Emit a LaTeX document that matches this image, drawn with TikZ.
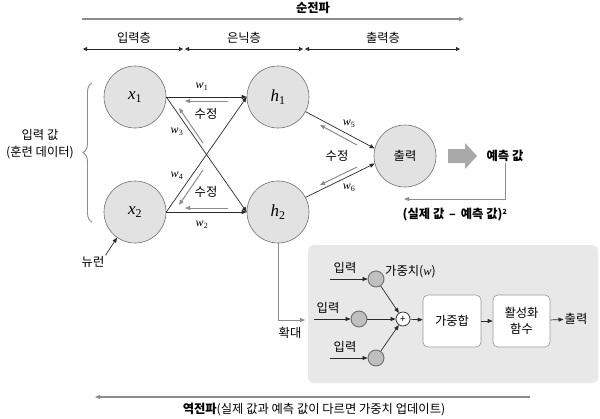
\documentclass[tikz,border=0pt]{standalone}
\usepackage{fontspec}
\setmainfont{Noto Sans CJK KR}
\newfontfamily\tms{Liberation Serif}
\usetikzlibrary{arrows.meta,decorations.pathreplacing}
\definecolor{nfill}{HTML}{E2E2E2}
\definecolor{ndraw}{HTML}{6E6E6E}
\definecolor{dk}{HTML}{2A2A2A}
\definecolor{gr}{HTML}{8C8C8C}
\definecolor{panelg}{HTML}{E8E8E8}
\newcommand\myvar[2]{{\tms\itshape #1}\textsubscript{\tms #2}}
\tikzset{
  neuron/.style={circle, minimum size=62pt, inner sep=0pt, fill=nfill, draw=ndraw, line width=0.6pt},
  darr/.style={draw=dk, line width=0.7pt, -{Triangle[length=5pt,width=4pt]}},
  garr/.style={draw=gr, line width=1pt, -{Triangle[length=5pt,width=4pt]}},
  dbl/.style={draw=dk, line width=0.9pt, {Triangle[length=4pt,width=4pt]}-{Triangle[length=4pt,width=4pt]}},
  kor/.style={font=\fontsize{12.3}{14}\selectfont, inner sep=1pt},
  korb/.style={font=\fontsize{12.3}{14}\selectfont\bfseries, inner sep=1pt},
  wlab/.style={font=\fontsize{12}{13}\selectfont, inner sep=1pt},
  bigvar/.style={font=\fontsize{17}{18}\selectfont},
  snode/.style={circle, minimum size=16pt, inner sep=0pt, fill=gray!50, draw=gray!85!black, line width=0.9pt},
  boxn/.style={rounded corners=5pt, draw=gray!80, fill=white, line width=0.6pt, minimum width=58pt, minimum height=52pt, align=center, font=\fontsize{12.3}{16}\selectfont}
}
\begin{document}
\begin{tikzpicture}[x=1pt,y=-1pt]
\fill[white] (0,0) rectangle (600,418);
\useasboundingbox (0,0) rectangle (600,418);

% forward propagation
\node[korb] (fwd) at (313,8) {순전파};
\coordinate (fa) at (82,19);
\coordinate (fb) at (464,19);
\draw[garr, line width=1.3pt] (fa) -- (fb);

% layers
\node[kor] (lin) at (134,38) {입력층};
\node[kor] (lhid) at (244,38) {은닉층};
\node[kor] (lout) at (383,38) {출력층};
\coordinate (l0) at (83,49);
\coordinate (l1a) at (183,49);
\coordinate (l1b) at (185,49);
\coordinate (l2a) at (303,49);
\coordinate (l2b) at (305,49);
\coordinate (l3) at (460,49);
\draw[dbl] (l0) -- (l1a);
\draw[dbl] (l1b) -- (l2a);
\draw[dbl] (l2b) -- (l3);

% neurons
\node[neuron, bigvar] (x1) at (135,97) {\myvar{x}{1}};
\node[neuron, bigvar] (x2) at (135,212) {\myvar{x}{2}};
\node[neuron, bigvar] (h1) at (278,97) {\myvar{h}{1}};
\node[neuron, bigvar] (h2) at (278,212) {\myvar{h}{2}};
\node[neuron, kor] (out) at (405,156) {출력};

% forward connections
\draw[darr] (x1.east) -- (h1.west);
\draw[darr] (x2.east) -- (h2.west);
\draw[darr] (x1.east) -- (h2.west);
\draw[darr] (x2.east) -- (h1.west);
\draw[darr] (h1.-28) -- (out.166);
\draw[darr] (h2.28) -- (out.194);

\node[wlab] (w1) at (202,87) {\myvar{w}{1}};
\node[wlab] (w2) at (202,225) {\myvar{w}{2}};
\node[wlab] (w3) at (177,132) {\myvar{w}{3}};
\node[wlab] (w4) at (177,176) {\myvar{w}{4}};
\node[wlab] (w5) at (349,124) {\myvar{w}{5}};
\node[wlab] (w6) at (349,188) {\myvar{w}{6}};

% correction arrows
\coordinate (ba1) at (228,101); \coordinate (bb1) at (185,101);
\coordinate (ba2) at (228,208); \coordinate (bb2) at (185,208);
\coordinate (ba3) at (203,143); \coordinate (bb3) at (179,108);
\coordinate (ba4) at (203,170); \coordinate (bb4) at (179,205);
\coordinate (ba5) at (357,145); \coordinate (bb5) at (320,125);
\coordinate (ba6) at (357,167); \coordinate (bb6) at (320,185);
\draw[garr] (ba1) -- (bb1);
\draw[garr] (ba2) -- (bb2);
\draw[garr] (ba3) -- (bb3);
\draw[garr] (ba4) -- (bb4);
\draw[garr] (ba5) -- (bb5);
\draw[garr] (ba6) -- (bb6);
\node[kor] (fix1) at (206,114) {수정};
\node[kor] (fix2) at (206,192) {수정};
\node[kor] (fix3) at (337,156) {수정};

% prediction
\fill[gr!75] (448,149) -- (465,149) -- (465,143) -- (477,156) -- (465,169) -- (465,163) -- (448,163) -- cycle;
\node[korb] (pred) at (505,156) {예측 값};
\coordinate (e1) at (404,199);
\draw[garr] (pred.south) |- (e1);
\node[korb] (err) at (455,215) {(실제 값 \,–\, 예측 값)\textsuperscript{\fontsize{7}{8}\selectfont 2}};

% input values brace
\draw[gr, line width=0.9pt, decorate, decoration={brace, amplitude=9pt}] (92,222) -- (92,83);
\node[kor, align=center, font=\fontsize{12.3}{17}\selectfont] (inval) at (40,144) {입력 값\\(훈련 데이터)};

% neuron label
\node[kor] (nr) at (93,262) {뉴런};
\draw[darr] (nr.north east) -- (x2.235);

% zoom line
\coordinate (z1) at (278,320);
\coordinate (z2) at (305,320);
\draw[gr, line width=0.9pt] (h2.south) -- (z1);
\draw[garr] (z1) -- (z2);
\node[kor] (zoom) at (290,333) {확대};

% panel
\fill[panelg, rounded corners=6pt] (308,245) rectangle (598,383);
\node[snode] (c1) at (376,279) {};
\node[snode] (c2) at (359,319) {};
\node[snode] (c3) at (376,358) {};
\coordinate (i1) at (330,279);
\coordinate (i2) at (314,319);
\coordinate (i3) at (330,358);
\draw[darr] (i1) -- (c1);
\draw[darr] (i2) -- (c2);
\draw[darr] (i3) -- (c3);
\node[kor] (t1) at (345,268) {입력};
\node[kor] (t2) at (328,308) {입력};
\node[kor] (t3) at (345,347) {입력};
\node[kor, anchor=west] (wt) at (384,272) {가중치({\tms\itshape w})};
\node[circle, draw=dk, fill=white, line width=0.7pt, minimum size=14pt, inner sep=0pt, font=\fontsize{10}{10}\selectfont] (p) at (403,319) {+};
\draw[darr] (c1) -- (p);
\draw[darr] (c2) -- (p);
\draw[darr] (c3) -- (p);
\node[boxn] (ws) at (452,321) {가중합};
\node[boxn, minimum width=57pt] (act) at (521.5,321) {활성화\\함수};
\node[kor] (op) at (576,319) {출력};
\draw[darr] (p) -- (ws);
\draw[darr] (ws) -- (act);
\draw[darr] (act) -- (op);

% back propagation
\coordinate (bpa) at (530,397);
\coordinate (bpb) at (95,397);
\draw[garr, line width=1.1pt] (bpa) -- (bpb);
\node[kor] (bp) at (314,410) {{\bfseries 역전파}(실제 값과 예측 값이 다르면 가중치 업데이트)};
\end{tikzpicture}
\end{document}
